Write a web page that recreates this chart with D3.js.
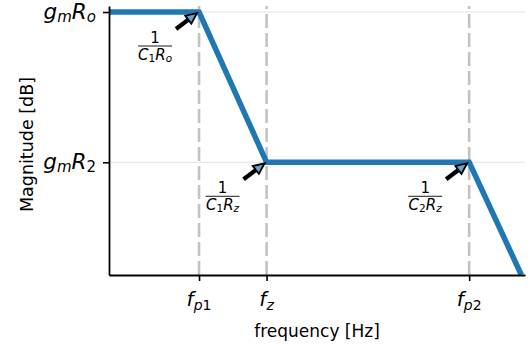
<!DOCTYPE html>
<html>
<head>
<meta charset="utf-8">
<script src="https://cdn.jsdelivr.net/npm/d3@7"></script>
<style>
  body { margin: 0; background: #fff; }
  svg { display: block; }
</style>
</head>
<body>
<svg id="chart" width="531" height="348"></svg>
<script>
// Asymptotic Bode magnitude: x in decades, y in dB
const freq = [0, 1, 1.75, 4, 4.58];
const magnitude = [60, 60, 20, 20, -10];

// Tick positions and math-style labels; token style: i = italic, s = subscript
const xTickValues = [1, 1.75, 4];
const xTickLabels = [
  [["f", "i"], ["p", "si"], ["1", "s"]],
  [["f", "i"], ["z", "si"]],
  [["f", "i"], ["p", "si"], ["2", "s"]]
];
const yTickValues = [60, 20];
const yTickLabels = [
  [["g", "i"], ["m", "si"], ["R", "i"], ["o", "si"]],
  [["g", "i"], ["m", "si"], ["R", "i"], ["2", "s"]]
];

// Corner annotations: index of the corner point and the fraction denominator
const cornerIndex = [1, 2, 3];
const cornerDenominators = [
  [["C", "i"], ["1", "s"], ["R", "i"], ["o", "si"]],
  [["C", "i"], ["1", "s"], ["R", "i"], ["z", "si"]],
  [["C", "i"], ["2", "s"], ["R", "i"], ["z", "si"]]
];

const FONT = "'DejaVu Sans', sans-serif";
const svg = d3.select("#chart");

const x = d3.scaleLinear().domain([0, 4.62]).range([109, 525]);
const y = d3.scaleLinear().domain([-10, 61.6]).range([275, 6]);
const [x0, x1] = x.range();
const [yb, yt] = y.range();

// write a sequence of tokens into a <text>, lowering subscripts
function mathText(sel, tokens, size, subSize, shift) {
  let low = false;
  tokens.forEach(([t, st]) => {
    const sub = st.includes("s");
    const ts = sel.append("tspan").text(t)
      .attr("font-size", sub ? subSize : size)
      .attr("font-style", st.includes("i") ? "italic" : "normal");
    if (sub && !low) { ts.attr("dy", shift); low = true; }
    else if (!sub && low) { ts.attr("dy", -shift); low = false; }
  });
}

// horizontal grid lines at the y ticks
svg.append("g").selectAll("line").data(yTickValues).join("line")
  .attr("x1", x0).attr("x2", x1)
  .attr("y1", d => y(d)).attr("y2", d => y(d))
  .attr("stroke", "#e2e2e2").attr("stroke-width", 1);

// dashed markers at the corner frequencies
svg.append("g").selectAll("line").data(xTickValues).join("line")
  .attr("x1", d => x(d)).attr("x2", d => x(d))
  .attr("y1", yt).attr("y2", yb)
  .attr("stroke", "#c2c2c2").attr("stroke-width", 2.6)
  .attr("stroke-dasharray", "14,5").attr("stroke-dashoffset", -8);

// magnitude response
const pts = freq.map((f, i) => [f, magnitude[i]]);
svg.append("path")
  .datum(pts)
  .attr("d", d3.line().x(d => x(d[0])).y(d => y(d[1])))
  .attr("fill", "none")
  .attr("stroke", "#1f77b4")
  .attr("stroke-width", 5.5)
  .attr("stroke-linejoin", "miter");

// axes
const xAxis = svg.append("g").attr("transform", `translate(0,${yb})`)
  .call(d3.axisBottom(x).tickValues(xTickValues).tickFormat("").tickSize(6).tickSizeOuter(0));
const yAxis = svg.append("g").attr("transform", `translate(${x0},0)`)
  .call(d3.axisLeft(y).tickValues(yTickValues).tickFormat("").tickSize(6).tickSizeOuter(0));
[xAxis, yAxis].forEach(a => {
  a.select(".domain").attr("stroke", "#000").attr("stroke-width", 1.8);
  a.selectAll(".tick line").attr("stroke", "#000").attr("stroke-width", 1.6);
});

// tick labels
xTickValues.forEach((v, i) => {
  const t = svg.append("text")
    .attr("x", x(v)).attr("y", 306)
    .attr("text-anchor", "middle")
    .attr("font-family", FONT).attr("fill", "#000");
  mathText(t, xTickLabels[i], 20, 14, 4);
});
yTickValues.forEach((v, i) => {
  const t = svg.append("text")
    .attr("x", 96).attr("y", y(v) + 7)
    .attr("text-anchor", "end")
    .attr("font-family", FONT).attr("fill", "#000");
  mathText(t, yTickLabels[i], 21.5, 15, 3);
});

// axis titles
svg.append("text")
  .attr("x", (x0 + x1) / 2).attr("y", 337)
  .attr("text-anchor", "middle")
  .attr("font-family", FONT).attr("font-size", 17)
  .text("frequency [Hz]");
svg.append("text")
  .attr("transform", `translate(33,${(yb + yt) / 2 + 4}) rotate(-90)`)
  .attr("text-anchor", "middle")
  .attr("font-family", FONT).attr("font-size", 17.5)
  .text("Magnitude [dB]");

// arrows and fraction labels at each corner
cornerIndex.forEach((idx, k) => {
  const cx = x(freq[idx]), cy = y(magnitude[idx]);
  const tail = [cx - 23, cy + 17], tip = [cx - 2, cy + 1];
  const dx = tip[0] - tail[0], dy = tip[1] - tail[1];
  const len = Math.hypot(dx, dy), ux = dx / len, uy = dy / len;
  const hl = 11, hw = 5;
  const base = [tip[0] - ux * hl, tip[1] - uy * hl];
  const g = svg.append("g");
  g.append("line")
    .attr("x1", tail[0]).attr("y1", tail[1])
    .attr("x2", base[0] + ux * 2).attr("y2", base[1] + uy * 2)
    .attr("stroke", "#000").attr("stroke-width", 4.2);
  g.append("path")
    .attr("d", `M${tip[0]},${tip[1]}L${base[0] - uy * hw},${base[1] + ux * hw}L${base[0] + uy * hw},${base[1] - ux * hw}Z`)
    .attr("fill", "#6f9fcc").attr("stroke", "#000").attr("stroke-width", 1.8)
    .attr("stroke-linejoin", "miter");

  const lx = cx - 44;
  g.append("text")
    .attr("x", lx).attr("y", cy + 30.5)
    .attr("text-anchor", "middle")
    .attr("font-family", FONT).attr("font-size", 15)
    .text("1");
  g.append("line")
    .attr("x1", lx - 17).attr("x2", lx + 17)
    .attr("y1", cy + 34).attr("y2", cy + 34)
    .attr("stroke", "#000").attr("stroke-width", 0.9);
  const den = g.append("text")
    .attr("x", lx).attr("y", cy + 47.5)
    .attr("text-anchor", "middle")
    .attr("font-family", FONT);
  mathText(den, cornerDenominators[k], 15, 10.5, 2);
});
</script>
</body>
</html>
